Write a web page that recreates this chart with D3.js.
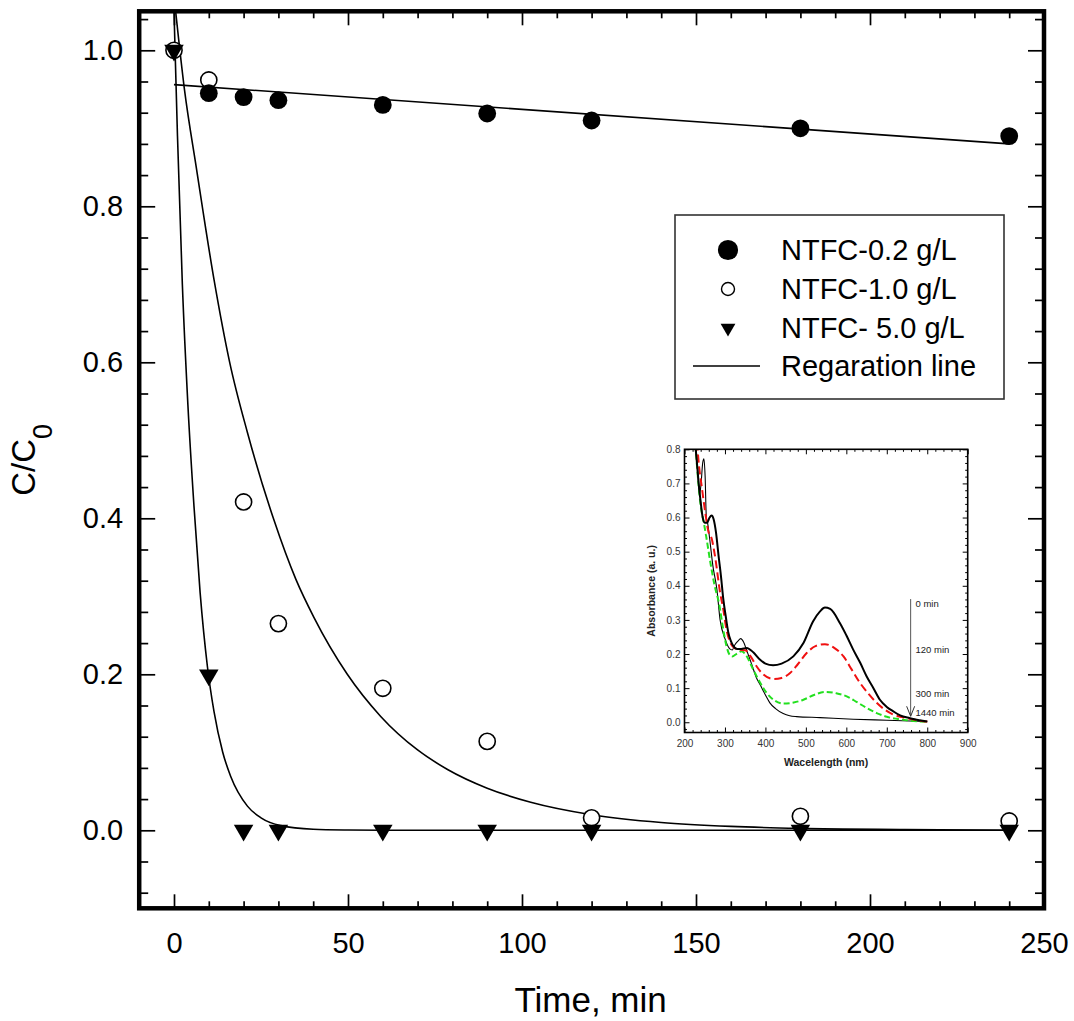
<!DOCTYPE html>
<html><head><meta charset="utf-8">
<script src="https://cdn.jsdelivr.net/npm/d3@7"></script>
<style>
html,body{margin:0;padding:0;background:#fff;}
svg{display:block;font-family:"Liberation Sans",Arial,sans-serif;}
</style></head>
<body>
<svg id="chart" width="1074" height="1021"></svg>
<script>
// ---------------- main chart data ----------------
const time = [0, 10, 20, 30, 60, 90, 120, 180, 240];
const c02 = [null, 0.945, 0.940, 0.936, 0.930, 0.919, 0.910, 0.900, 0.890];
const c10 = [1.0, 0.962, 0.421, 0.265, 0.182, 0.114, 0.016, 0.018, 0.012];
const c50 = [1.0, 0.199, 0.0, 0.0, 0.0, 0.0, 0.0, 0.0, 0.0];
const seriesNames = ["NTFC-0.2 g/L", "NTFC-1.0 g/L", "NTFC- 5.0 g/L", "Regaration line"];

// regression lines
const fit02T = [0, 240];
const fit02C = [0.956, 0.880];
const fit10T = [0, 3, 6.4, 11.5, 16, 21.1, 28.7, 35, 40.2, 49.8, 59.4, 70, 78.6, 90, 102.5, 120, 140, 160, 180, 210, 240];
const fit10C = [1.07, 0.95, 0.85, 0.706, 0.60, 0.51, 0.398, 0.322, 0.273, 0.200, 0.146, 0.103, 0.078, 0.054, 0.036, 0.020, 0.010, 0.005, 0.0025, 0.001, 0.0];
const fit50T = [0, 1, 2.4, 4, 5.75, 7.5, 9.6, 11.5, 14, 16.3, 21.1, 25, 30.7, 40, 50, 60, 240];
const fit50C = [1.05, 0.89, 0.70, 0.545, 0.415, 0.305, 0.21, 0.152, 0.10, 0.069, 0.031, 0.016, 0.006, 0.0013, 0.0003, 0.0, 0.0];

const xMajor = [0, 50, 100, 150, 200, 250];
const yMajor = [0.0, 0.2, 0.4, 0.6, 0.8, 1.0];

// ---------------- inset data ----------------
const spec0nm = [226,230,235,240,245,250,256,262,267,272,278,284,290,296,302,308,314,320,330,340,354,370,387,400,419,440,469,494,518,535,547,560,584,600,617,634,650,667,683,700,716,733,757,780,800];
const spec0A  = [0.82,0.77,0.70,0.645,0.60,0.585,0.585,0.600,0.606,0.595,0.555,0.49,0.43,0.36,0.31,0.265,0.24,0.225,0.215,0.215,0.218,0.205,0.183,0.172,0.167,0.172,0.193,0.232,0.296,0.325,0.336,0.332,0.291,0.255,0.213,0.175,0.135,0.10,0.066,0.045,0.032,0.02,0.012,0.006,0.002];
const spec120nm = [231,236,242,251,259,267,275,288,296,304,312,321,335,350,365,378,395,420,440,461,480,502,525,547,570,593,613,634,655,675,695,716,737,757,775,790,800];
const spec120A  = [0.82,0.75,0.696,0.617,0.559,0.539,0.49,0.38,0.33,0.27,0.237,0.22,0.213,0.211,0.19,0.164,0.14,0.127,0.13,0.1445,0.17,0.203,0.224,0.229,0.218,0.193,0.155,0.115,0.083,0.057,0.037,0.0225,0.015,0.010,0.006,0.003,0.002];
const spec300nm = [226,228,233,237,241,247,253,265,274,286,296,304,312,318,328,341,350,370,385,403,420,444,470,494,520,547,575,601,625,650,675,700,725,749,775,799];
const spec300A  = [0.84,0.80,0.72,0.666,0.627,0.59,0.549,0.461,0.403,0.344,0.27,0.222,0.197,0.193,0.20,0.208,0.20,0.154,0.12,0.086,0.066,0.0547,0.058,0.066,0.08,0.089,0.085,0.076,0.06,0.042,0.027,0.016,0.01,0.006,0.003,0.001];
const spec1440nm = [227,229,233,237,241,245,248,251,254,257,262,270,280,288,300,312,318,325,332,339,346,354,366,378,387,400,411,425,444,460,477,535,617,700,800];
const spec1440A  = [0.84,0.80,0.73,0.666,0.70,0.76,0.772,0.72,0.60,0.585,0.54,0.46,0.39,0.30,0.245,0.215,0.212,0.228,0.238,0.245,0.235,0.21,0.17,0.13,0.11,0.08,0.057,0.04,0.0255,0.019,0.0166,0.0137,0.009,0.006,0.002];
const annLabels = ["0 min", "120 min", "300 min", "1440 min"];
const annAbs = [0.347, 0.212, 0.085, 0.028];
const arrowNm = 759, arrowTop = 0.361, arrowBottom = 0.0176;
const insetXMajor = [200, 300, 400, 500, 600, 700, 800, 900];
const insetYMajor = [0.0, 0.1, 0.2, 0.3, 0.4, 0.5, 0.6, 0.7, 0.8];

// ---------------- drawing ----------------
const FONT = '"Liberation Sans", Arial, sans-serif';
const svg = d3.select("#chart");
svg.append("rect").attr("width", 1074).attr("height", 1021).attr("fill", "#fff");

const L = 139.2, R = 1044, T = 11.3, B = 908.3;
const x = d3.scaleLinear([-10, 250], [L, R]);
const y = d3.scaleLinear([-0.1, 1.05], [B, T]);

const defs = svg.append("defs");
defs.append("clipPath").attr("id", "plotclip").append("rect")
  .attr("x", L).attr("y", T).attr("width", R - L).attr("height", B - T);

function styleAxis(g, sw) {
  g.select(".domain").remove();
  g.selectAll(".tick line").attr("stroke", "#000").attr("stroke-width", sw);
}
const xMinor = d3.range(1, 25).filter(i => i % 5 !== 0).map(i => i * 10);
const yMinor = d3.range(-2, 27).filter(i => i % 5 !== 0).map(i => +(i * 0.04).toFixed(2));

// bottom axis
const gxb = svg.append("g").attr("transform", `translate(0,${B})`)
  .call(d3.axisBottom(x).tickValues(xMajor).tickSize(-14).tickPadding(24).tickFormat(d3.format("d")));
styleAxis(gxb, 1.7);
gxb.selectAll("text").attr("font-size", 29).attr("font-family", FONT).attr("fill", "#000");
const gxbm = svg.append("g").attr("transform", `translate(0,${B})`)
  .call(d3.axisBottom(x).tickValues(xMinor).tickSize(-7).tickFormat(""));
styleAxis(gxbm, 1.7);
// top axis
const gxt = svg.append("g").attr("transform", `translate(0,${T})`)
  .call(d3.axisTop(x).tickValues(xMajor).tickSize(-14).tickFormat(""));
styleAxis(gxt, 1.7);
const gxtm = svg.append("g").attr("transform", `translate(0,${T})`)
  .call(d3.axisTop(x).tickValues(xMinor).tickSize(-7).tickFormat(""));
styleAxis(gxtm, 1.7);
// left axis
const gyl = svg.append("g").attr("transform", `translate(${L},0)`)
  .call(d3.axisLeft(y).tickValues(yMajor).tickSize(-16).tickPadding(16).tickFormat(d3.format(".1f")));
styleAxis(gyl, 1.7);
gyl.selectAll("text").attr("font-size", 29).attr("font-family", FONT).attr("fill", "#000");
const gylm = svg.append("g").attr("transform", `translate(${L},0)`)
  .call(d3.axisLeft(y).tickValues(yMinor).tickSize(-9).tickFormat(""));
styleAxis(gylm, 1.7);
// right axis
const gyr = svg.append("g").attr("transform", `translate(${R},0)`)
  .call(d3.axisRight(y).tickValues(yMajor).tickSize(-16).tickFormat(""));
styleAxis(gyr, 1.7);
const gyrm = svg.append("g").attr("transform", `translate(${R},0)`)
  .call(d3.axisRight(y).tickValues(yMinor).tickSize(-9).tickFormat(""));
styleAxis(gyrm, 1.7);

// axis titles
svg.append("text").attr("x", (L + R) / 2 - 1).attr("y", 1012).attr("text-anchor", "middle")
  .attr("font-size", 35).attr("font-family", FONT).text("Time, min");
const yt = svg.append("text").attr("transform", `translate(35,${(T + B) / 2}) rotate(-90)`)
  .attr("text-anchor", "middle").attr("font-size", 33).attr("font-family", FONT);
yt.append("tspan").text("C/C");
yt.append("tspan").attr("font-size", 27).attr("dy", 17).text("0");

// regression lines
const plot = svg.append("g").attr("clip-path", "url(#plotclip)");
const line = d3.line().x(d => x(d[0])).y(d => y(d[1])).curve(d3.curveMonotoneX);
[[fit02T, fit02C], [fit10T, fit10C], [fit50T, fit50C]].forEach(([ts, cs]) => {
  plot.append("path").datum(ts.map((t, i) => [t, cs[i]]))
    .attr("d", line).attr("fill", "none").attr("stroke", "#000").attr("stroke-width", 1.6);
});

// markers
const circFilled = d3.symbol().type(d3.symbolCircle).size(249);
const circOpen = d3.symbol().type(d3.symbolCircle).size(205);
const tri = d3.symbol().type(d3.symbolTriangle).size(165);
const pts = (arr) => time.map((t, i) => [t, arr[i]]).filter(d => d[1] != null);

svg.append("g").selectAll("path").data(pts(c10)).join("path")
  .attr("d", circOpen).attr("transform", d => `translate(${x(d[0])},${y(d[1])})`)
  .attr("fill", "#fff").attr("stroke", "#000").attr("stroke-width", 1.6);
svg.append("g").selectAll("path").data(pts(c02)).join("path")
  .attr("d", circFilled).attr("transform", d => `translate(${x(d[0])},${y(d[1])})`)
  .attr("fill", "#000");
svg.append("g").selectAll("path").data(pts(c50)).join("path")
  .attr("d", tri).attr("transform", d => `translate(${x(d[0])},${y(d[1])}) rotate(180)`)
  .attr("fill", "#000");

// frame
svg.append("rect").attr("x", L).attr("y", T).attr("width", R - L).attr("height", B - T)
  .attr("fill", "none").attr("stroke", "#000").attr("stroke-width", 4.5);

// legend
const lg = svg.append("g");
lg.append("rect").attr("x", 675).attr("y", 215).attr("width", 329).attr("height", 184)
  .attr("fill", "#fff").attr("stroke", "#333").attr("stroke-width", 1.6);
const legY = [250, 289, 328, 366];
lg.append("path").attr("d", d3.symbol().type(d3.symbolCircle).size(320)).attr("transform", `translate(728,${legY[0]})`).attr("fill", "#000");
lg.append("path").attr("d", d3.symbol().type(d3.symbolCircle).size(133)).attr("transform", `translate(728,${legY[1]})`).attr("fill", "#fff").attr("stroke", "#000").attr("stroke-width", 1.4);
lg.append("path").attr("d", d3.symbol().type(d3.symbolTriangle).size(95)).attr("transform", `translate(728,${legY[2]}) rotate(180)`).attr("fill", "#000");
lg.append("line").attr("x1", 693).attr("x2", 760).attr("y1", legY[3]).attr("y2", legY[3]).attr("stroke", "#000").attr("stroke-width", 1.6);
seriesNames.forEach((s, i) => {
  lg.append("text").attr("x", 781).attr("y", legY[i] + 10).attr("font-size", 29)
    .attr("font-family", FONT).text(s);
});

// ---------------- inset ----------------
const IL = 684.5, IR = 967.7, IT = 449.3, IB = 732.5;
const xi = d3.scaleLinear([200, 900], [IL, IR]);
const yi = d3.scaleLinear([-0.03, 0.8], [IB, IT]);
const ins = svg.append("g");
ins.append("rect").attr("x", IL).attr("y", IT).attr("width", IR - IL).attr("height", IB - IT).attr("fill", "#fff");
defs.append("clipPath").attr("id", "insclip").append("rect")
  .attr("x", IL).attr("y", IT).attr("width", IR - IL).attr("height", IB - IT);

const iline = d3.line().x(d => xi(d[0])).y(d => yi(d[1])).curve(d3.curveMonotoneX);
const ic = ins.append("g").attr("clip-path", "url(#insclip)");
const specs = [
  [spec1440nm, spec1440A, "#000", 1.1, null],
  [spec300nm, spec300A, "#22e01e", 2.0, "6,3"],
  [spec120nm, spec120A, "#f01010", 2.0, "8,4"],
  [spec0nm, spec0A, "#000", 2.0, null]
];
specs.forEach(([nm, A, col, w, dash]) => {
  const p = ic.append("path").datum(nm.map((v, i) => [v, A[i]]))
    .attr("d", iline).attr("fill", "none").attr("stroke", col).attr("stroke-width", w);
  if (dash) p.attr("stroke-dasharray", dash);
});

// arrow + labels
ins.append("line").attr("x1", xi(arrowNm)).attr("x2", xi(arrowNm)).attr("y1", yi(arrowTop)).attr("y2", yi(arrowBottom))
  .attr("stroke", "#555").attr("stroke-width", 1);
ins.append("path").attr("d", `M${xi(arrowNm) - 4},${yi(arrowBottom) - 10}L${xi(arrowNm)},${yi(arrowBottom)}L${xi(arrowNm) + 4},${yi(arrowBottom) - 10}`)
  .attr("fill", "none").attr("stroke", "#333").attr("stroke-width", 1);
annLabels.forEach((s, i) => {
  ins.append("text").attr("x", xi(771)).attr("y", yi(annAbs[i]) + 3.5).attr("font-size", 9.5)
    .attr("font-family", FONT).attr("fill", "#222").text(s);
});

const ixMinor = d3.range(11, 45).filter(i => i % 5 !== 0).map(i => i * 20);
const iyMinor = d3.range(-1, 40).filter(i => i % 5 !== 0).map(i => +(i * 0.02).toFixed(2));
function iaxis(gen, tx, ty) {
  const g = ins.append("g").attr("transform", `translate(${tx},${ty})`).call(gen);
  g.select(".domain").remove();
  g.selectAll(".tick line").attr("stroke", "#000").attr("stroke-width", 1);
  g.selectAll("text").attr("font-size", 10).attr("font-family", FONT).attr("fill", "#333");
  return g;
}
iaxis(d3.axisBottom(xi).tickValues(insetXMajor).tickSize(-5).tickPadding(7).tickFormat(d3.format("d")), 0, IB);
iaxis(d3.axisBottom(xi).tickValues(ixMinor).tickSize(-2.5).tickFormat(""), 0, IB);
iaxis(d3.axisTop(xi).tickValues(insetXMajor).tickSize(-5).tickFormat(""), 0, IT);
iaxis(d3.axisTop(xi).tickValues(ixMinor).tickSize(-2.5).tickFormat(""), 0, IT);
iaxis(d3.axisLeft(yi).tickValues(insetYMajor).tickSize(-5).tickPadding(4).tickFormat(d3.format(".1f")), IL, 0);
iaxis(d3.axisLeft(yi).tickValues(iyMinor).tickSize(-2.5).tickFormat(""), IL, 0);
iaxis(d3.axisRight(yi).tickValues(insetYMajor).tickSize(-5).tickFormat(""), IR, 0);
iaxis(d3.axisRight(yi).tickValues(iyMinor).tickSize(-2.5).tickFormat(""), IR, 0);

ins.append("rect").attr("x", IL).attr("y", IT).attr("width", IR - IL).attr("height", IB - IT)
  .attr("fill", "none").attr("stroke", "#000").attr("stroke-width", 1.6);
ins.append("text").attr("x", (IL + IR) / 2).attr("y", 766).attr("text-anchor", "middle")
  .attr("font-size", 10.5).attr("font-weight", "bold").attr("font-family", FONT).attr("fill", "#222").text("Wacelength (nm)");
ins.append("text").attr("transform", `translate(655,${(IT + IB) / 2}) rotate(-90)`).attr("text-anchor", "middle")
  .attr("font-size", 10.5).attr("font-weight", "bold").attr("font-family", FONT).attr("fill", "#222").text("Absorbance (a. u.)");
</script>
</body></html>
